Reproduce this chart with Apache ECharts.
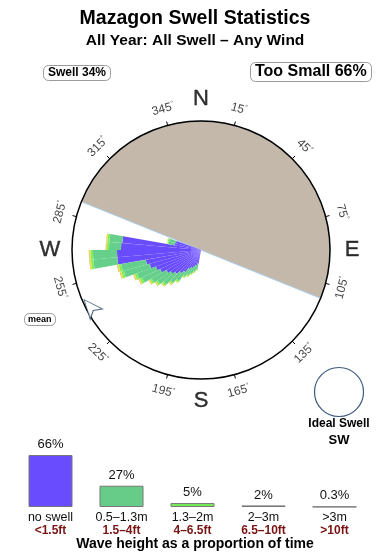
<!DOCTYPE html>
<html><head><meta charset="utf-8">
<script src="https://cdn.jsdelivr.net/npm/echarts@6/dist/echarts.min.js"></script>
<style>html,body{margin:0;padding:0;background:#fff}#c{width:390px;height:560px}</style>
</head><body><div id="c"></div>
<script>
// ---------- data ----------
const chartTitle = 'Mazagon Swell Statistics';
const chartSubtitle = 'All Year: All Swell \u2013 Any Wind';
const swellShare = 'Swell 34%';
const tooSmallShare = 'Too Small 66%';
const meanLabel = 'mean';
const idealLabel = 'Ideal Swell';
const idealDir = 'SW';
const caption = 'Wave height as a proportion of time';

// rose bins (start bearing of each 5-degree bin)
const binStart   = [190,195,200,205,210,215,220,225,230,235,240,245,250,255,260,265,270,275,280,285];
const roseBlue   = [14,16,18,20,22,27,30,34,37,40,45,48,53,56,84,84,80,79,27,26];
const roseGreen  = [6,6.5,7,8,8.5,11,13,15,16,17,20,20,27,25,24,24,12,13,6,7];
const roseLight  = [1,1,1.2,1.2,1.5,1.5,1.6,1.8,2,2,2.5,2.5,2.5,2.5,2.5,2.5,2,2,1,1.5];
const roseYellow = [0.6,0.6,0.6,0.7,0.8,1,1,1,1,1.2,1.2,1.2,1.3,1.3,1.3,1.3,1,1,0.5,0.5];
const roseBrown  = [0,0,0,0,0,0,0.3,0.3,0.3,0.4,0.4,0.4,0.5,0.5,0.4,0.4,0.3,0.3,0,0];

// sheltered (shaded) sector, bearings
const shadeFrom = 292;
const shadeSpan = 180;

const dialTicks = [15,45,75,105,135,165,195,225,255,285,315,345];
const compassNames = ['N','E','S','W'];
const compassBearings = [0,90,180,270];
const meanBearing = 247;

const heightMetric = ['no swell','0.5\u20131.3m','1.3\u20132m','2\u20133m','>3m'];
const heightFeet   = ['<1.5ft','1.5\u20134ft','4\u20136.5ft','6.5\u201310ft','>10ft'];
const heightPct    = [66,27,5,2,0.3];

// ---------- styles ----------
const FONT = '"Liberation Sans", Arial, sans-serif';
const C = {blue:'#6a4cff', green:'#66cf8c', light:'#7bef5c', yellow:'#ece433', brown:'#e0955a'};
const legendColors = ['#6a4cff','#66cc88','#77ee55','#bcbc38','#c9aaa2'];
const CX = 201, CY = 250, R = 129;

// ---------- build ----------
const angleCats = Array.from({length:72}, (_, i) => String(i * 5));
function full(arr) {
  return angleCats.map(c => { const k = binStart.indexOf(+c); return k >= 0 ? arr[k] : 0; });
}
function roseSeries(name, arr, color) {
  return {
    name, type: 'bar', coordinateSystem: 'polar', polarIndex: 0, stack: 'rose',
    barCategoryGap: '0%', data: full(arr), z: 2, silent: true,
    itemStyle: {color, borderWidth: 0}
  };
}
function labelRot(b) {
  let cw = (b > 90 && b < 270) ? b - 180 : (b >= 270 ? b - 360 : b);
  return -cw;
}

const option = {
  animation: false,
  backgroundColor: '#fff',
  title: [
    {text: chartTitle, left: 195, top: 9, textAlign: 'center', padding: 0,
      textStyle: {fontFamily: FONT, fontSize: 19.5, fontWeight: 'bold', color: '#000'}},
    {text: chartSubtitle, left: 195, top: 33, textAlign: 'center', padding: 0,
      textStyle: {fontFamily: FONT, fontSize: 15.5, fontWeight: 'bold', color: '#000'}},
    {text: swellShare, left: 43, top: 65, padding: [2, 5], borderColor: '#9a9a9a', borderWidth: 1, borderRadius: 5,
      textStyle: {fontFamily: FONT, fontSize: 12, fontWeight: 'bold', color: '#000'}},
    {text: tooSmallShare, left: 250, top: 62, padding: [2, 5], borderColor: '#9a9a9a', borderWidth: 1, borderRadius: 5,
      textStyle: {fontFamily: FONT, fontSize: 16, fontWeight: 'bold', color: '#000'}},
    {text: meanLabel, left: 24, top: 313, padding: [2, 4], borderColor: '#9a9a9a', borderWidth: 1, borderRadius: 5,
      textStyle: {fontFamily: FONT, fontSize: 9, fontWeight: 'bold', color: '#000'}},
    {text: idealLabel, left: 339, top: 418, textAlign: 'center', padding: 0,
      textStyle: {fontFamily: FONT, fontSize: 12, fontWeight: 'bold', color: '#000'}},
    {text: idealDir, left: 339, top: 434, textAlign: 'center', padding: 0,
      textStyle: {fontFamily: FONT, fontSize: 13, fontWeight: 'bold', color: '#000'}},
    {text: caption, left: 195, top: 537, textAlign: 'center', padding: 0,
      textStyle: {fontFamily: FONT, fontSize: 14, fontWeight: 'bold', color: '#000'}}
  ],
  graphic: [
    {type: 'circle', shape: {cx: 339, cy: 392, r: 24.5},
      style: {fill: '#fff', stroke: '#3d5a80', lineWidth: 1.2}}
  ],
  polar: [
    {center: [CX, CY], radius: R},
    {center: [CX, CY], radius: R}
  ],
  angleAxis: [
    {polarIndex: 0, type: 'category', data: angleCats, startAngle: 90, clockwise: true,
      boundaryGap: true, show: false},
    {polarIndex: 1, type: 'value', min: 0, max: 360, interval: 30, startAngle: 90, clockwise: true, z: 5,
      axisLine: {show: true, lineStyle: {color: '#000', width: 1.5}},
      axisTick: {show: false},
      minorTick: {show: true, splitNumber: 2, length: 4, lineStyle: {color: '#000', width: 1}},
      axisLabel: {show: false}, splitLine: {show: false}, minorSplitLine: {show: false}}
  ],
  radiusAxis: [
    {polarIndex: 0, type: 'value', min: 0, max: R, show: false},
    {polarIndex: 1, type: 'value', min: 0, max: R, show: false}
  ],
  grid: {left: 15, right: 20, top: 455, height: 52},
  xAxis: {type: 'category', data: heightMetric,
    axisLine: {show: false}, axisTick: {show: false},
    axisLabel: {margin: 5, interval: 0,
      formatter: (v, i) => '{a|' + v + '}\n{b|' + heightFeet[i] + '}',
      rich: {
        a: {fontFamily: FONT, fontSize: 12.5, color: '#111', lineHeight: 12},
        b: {fontFamily: FONT, fontSize: 12, fontWeight: 'bold', color: '#7a1414', lineHeight: 13}
      }}},
  yAxis: {type: 'value', min: 0, max: heightPct[0], show: false},
  series: [
    {type: 'pie', center: [CX, CY], radius: [0, R], z: 1, silent: true,
      startAngle: ((90 - shadeFrom) % 360 + 360) % 360, clockwise: true,
      label: {show: false}, labelLine: {show: false}, emphasis: {disabled: true},
      data: [
        {value: shadeSpan, itemStyle: {color: '#c4b8aa', borderColor: '#a9cdea', borderWidth: 1}},
        {value: 360 - shadeSpan, itemStyle: {color: 'rgba(0,0,0,0)', borderWidth: 0}}
      ]},
    roseSeries('under 0.5m', roseBlue, C.blue),
    roseSeries('0.5-1.3m', roseGreen, C.green),
    roseSeries('1.3-2m', roseLight, C.light),
    roseSeries('2-3m', roseYellow, C.yellow),
    roseSeries('>3m', roseBrown, C.brown),
    {type: 'scatter', coordinateSystem: 'polar', polarIndex: 1, clip: false, silent: true, z: 6,
      symbol: 'circle', symbolSize: 1, itemStyle: {color: 'rgba(0,0,0,0)'},
      data: dialTicks.map(b => ({value: [146, b], label: {rotate: labelRot(b)}})),
      label: {show: true, position: 'inside', align: 'center', verticalAlign: 'middle',
        formatter: p => '{v|' + p.value[1] + '}{d|\u00b0}',
        rich: {
          v: {fontFamily: FONT, fontSize: 12, color: '#111'},
          d: {fontFamily: FONT, fontSize: 7, color: '#111', padding: [0, 0, 6, 0]}
        }}},
    {type: 'scatter', coordinateSystem: 'polar', polarIndex: 1, clip: false, silent: true, z: 6,
      symbol: 'circle', symbolSize: 1, itemStyle: {color: 'rgba(0,0,0,0)'},
      data: compassBearings.map((b, i) => ({value: [151, b], name: compassNames[i]})),
      label: {show: true, position: 'inside', formatter: p => p.name,
        fontFamily: FONT, fontSize: 22, color: '#000', textBorderColor: '#000', textBorderWidth: 0.4}},
    {type: 'scatter', coordinateSystem: 'polar', polarIndex: 1, clip: false, silent: true, z: 6,
      symbol: 'arrow', symbolSize: [12, 19], symbolRotate: 40,
      itemStyle: {color: '#fff', borderColor: '#2c4a6a', borderWidth: 1},
      data: [[127, meanBearing]]},
    {type: 'bar', xAxisIndex: 0, yAxisIndex: 0, barWidth: 44, silent: true,
      data: heightPct.map((v, i) => ({value: v, itemStyle: {color: legendColors[i]}})),
      itemStyle: {borderColor: '#777', borderWidth: 1},
      label: {show: true, position: 'top', distance: 4, formatter: p => p.value + '%',
        fontFamily: FONT, fontSize: 13, color: '#111'}}
  ]
};
const chart = echarts.init(document.getElementById('c'));
chart.setOption(option);
</script>
</body></html>
